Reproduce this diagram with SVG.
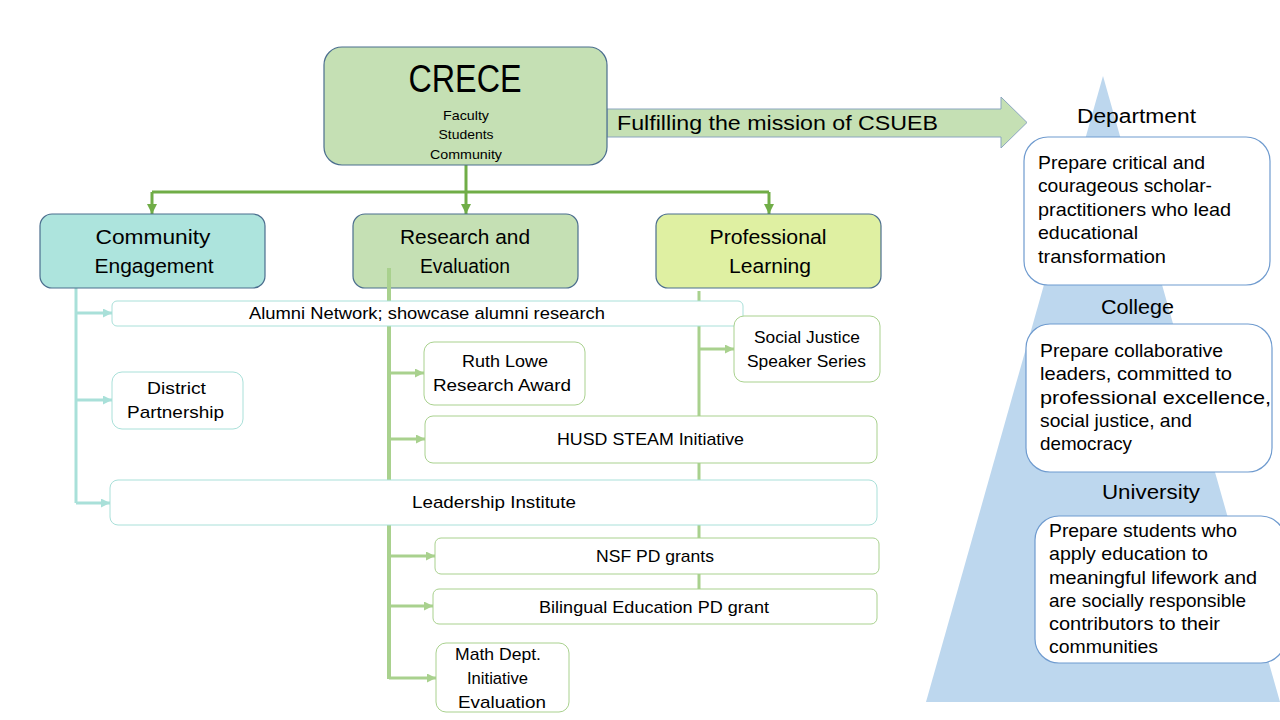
<svg xmlns="http://www.w3.org/2000/svg" width="1280" height="720" viewBox="0 0 1280 720">
<defs>
<style>
text{font-family:"Liberation Sans",Arial,sans-serif;fill:#000}
.t16{font-size:17px}
.t20{font-size:20.5px}
.t18{font-size:18.5px}
.mid{text-anchor:middle}
.hub{stroke:#4b6e8e;stroke-width:1.2}
.leaf{fill:#fff;stroke-width:1}
.teal{stroke:#a9e0d9}
.grn{stroke:#a9d18e}
.mbox{fill:#fff;stroke:#6f9bcf;stroke-width:1.2}
.conn{fill:none}
</style>
<marker id="ahMain" viewBox="0 0 10 10" refX="10" refY="5" markerUnits="userSpaceOnUse" markerWidth="10" markerHeight="10" orient="auto"><path d="M0,0 L10,5 L0,10 z" fill="#70ad47"/></marker>
<marker id="ahTeal" viewBox="0 0 10 10" refX="10" refY="5" markerUnits="userSpaceOnUse" markerWidth="9" markerHeight="9" orient="auto"><path d="M0,0 L10,5 L0,10 z" fill="#a9e0d9"/></marker>
<marker id="ahGrn" viewBox="0 0 10 10" refX="10" refY="5" markerUnits="userSpaceOnUse" markerWidth="9" markerHeight="9" orient="auto"><path d="M0,0 L10,5 L0,10 z" fill="#a9d18e"/></marker>
</defs>
<rect width="1280" height="720" fill="#fff"/>

<!-- pyramid -->
<g id="pyramid">
<polygon points="1103,76 926,702 1280,702" fill="#bdd7ee"/>
</g>

<!-- big arrow -->
<g id="mission-arrow">
<polygon points="607,109 1001,109 1001,97 1027,122.5 1001,148 1001,137 607,137" fill="#c5e0b4" stroke="#8aa5bf" stroke-width="1"/>
<text x="617" y="130" font-size="20" textLength="321" lengthAdjust="spacingAndGlyphs">Fulfilling the mission of CSUEB</text>
</g>

<!-- connectors -->
<g id="connectors" class="conn">
<path d="M466,165 V192 M152,192 H769" stroke="#70ad47" stroke-width="3"/>
<path d="M152,192 V214" stroke="#70ad47" stroke-width="3" marker-end="url(#ahMain)"/>
<path d="M466,192 V214" stroke="#70ad47" stroke-width="3" marker-end="url(#ahMain)"/>
<path d="M769,192 V214" stroke="#70ad47" stroke-width="3" marker-end="url(#ahMain)"/>

<path d="M76,288 V503" stroke="#a9e0d9" stroke-width="3"/>
<path d="M76,313 H112" stroke="#a9e0d9" stroke-width="3" marker-end="url(#ahTeal)"/>
<path d="M76,400 H112" stroke="#a9e0d9" stroke-width="3" marker-end="url(#ahTeal)"/>
<path d="M76,503 H110" stroke="#a9e0d9" stroke-width="3" marker-end="url(#ahTeal)"/>

<path d="M699,291 V590" stroke="#a9d18e" stroke-width="3"/>
<path d="M699,349 H734" stroke="#a9d18e" stroke-width="3" marker-end="url(#ahGrn)"/>
</g>

<!-- CRECE -->
<g id="crece">
<rect x="324" y="47" width="283" height="118" rx="18" fill="#c5e0b4" class="hub"/>
<text class="mid" x="465" y="92" font-size="38" textLength="113" lengthAdjust="spacingAndGlyphs">CRECE</text>
<text class="mid" x="466" y="120" font-size="13" textLength="46" lengthAdjust="spacingAndGlyphs">Faculty</text>
<text class="mid" x="466" y="139" font-size="13" textLength="55" lengthAdjust="spacingAndGlyphs">Students</text>
<text class="mid" x="466" y="159" font-size="13" textLength="72" lengthAdjust="spacingAndGlyphs">Community</text>
</g>

<g id="community-engagement">
<rect x="40" y="214" width="225" height="74" rx="12" fill="#ade4dd" class="hub"/>
<text class="t20 mid" x="153" y="244" textLength="115" lengthAdjust="spacingAndGlyphs">Community</text>
<text class="t20 mid" x="154" y="273" textLength="119" lengthAdjust="spacingAndGlyphs">Engagement</text>
</g>

<g id="research-evaluation">
<rect x="353" y="214" width="225" height="74" rx="12" fill="#c5e0b4" class="hub"/>
<text class="t20 mid" x="465" y="244" textLength="130" lengthAdjust="spacingAndGlyphs">Research and</text>
<text class="t20 mid" x="465" y="273" textLength="90" lengthAdjust="spacingAndGlyphs">Evaluation</text>
</g>

<g id="research-connectors" class="conn">
<path d="M389,268 V679" stroke="#a9d18e" stroke-width="4"/>
<path d="M389,373 H424" stroke="#a9d18e" stroke-width="3" marker-end="url(#ahGrn)"/>
<path d="M389,439 H425" stroke="#a9d18e" stroke-width="3" marker-end="url(#ahGrn)"/>
<path d="M389,556 H435" stroke="#a9d18e" stroke-width="3" marker-end="url(#ahGrn)"/>
<path d="M389,606 H433" stroke="#a9d18e" stroke-width="3" marker-end="url(#ahGrn)"/>
<path d="M389,678 H436" stroke="#a9d18e" stroke-width="3" marker-end="url(#ahGrn)"/>
</g>

<g id="professional-learning">
<rect x="656" y="214" width="225" height="74" rx="12" fill="#dff0a2" class="hub"/>
<text class="t20 mid" x="768" y="244" textLength="117" lengthAdjust="spacingAndGlyphs">Professional</text>
<text class="t20 mid" x="770" y="273" textLength="82" lengthAdjust="spacingAndGlyphs">Learning</text>
</g>

<g id="alumni-network">
<rect x="112" y="301" width="631" height="25" rx="5" class="leaf teal"/>
<text class="t16 mid" x="427" y="319" textLength="356" lengthAdjust="spacingAndGlyphs">Alumni Network; showcase alumni research</text>
</g>

<g id="social-justice">
<rect x="734" y="316" width="146" height="66" rx="10" class="leaf grn"/>
<text class="t16 mid" x="807" y="343" textLength="106" lengthAdjust="spacingAndGlyphs">Social Justice</text>
<text class="t16 mid" x="806.5" y="367" textLength="119" lengthAdjust="spacingAndGlyphs">Speaker Series</text>
</g>

<g id="ruth-lowe">
<rect x="424" y="342" width="161" height="63" rx="10" class="leaf grn"/>
<text class="t16 mid" x="505" y="367" textLength="86" lengthAdjust="spacingAndGlyphs">Ruth Lowe</text>
<text class="t16 mid" x="502" y="391" textLength="138" lengthAdjust="spacingAndGlyphs">Research Award</text>
</g>

<g id="district-partnership">
<rect x="112" y="372" width="131" height="57" rx="10" class="leaf teal"/>
<text class="t16 mid" x="176.5" y="394" textLength="59" lengthAdjust="spacingAndGlyphs">District</text>
<text class="t16 mid" x="175.5" y="418" textLength="97" lengthAdjust="spacingAndGlyphs">Partnership</text>
</g>

<g id="husd-steam">
<rect x="425" y="416" width="452" height="47" rx="8" class="leaf grn"/>
<text class="t16 mid" x="650.5" y="445" textLength="187" lengthAdjust="spacingAndGlyphs">HUSD STEAM Initiative</text>
</g>

<g id="leadership-institute">
<rect x="110" y="480" width="767" height="45" rx="8" class="leaf teal"/>
<text class="t16 mid" x="494" y="508" textLength="164" lengthAdjust="spacingAndGlyphs">Leadership Institute</text>
</g>

<g id="nsf-pd">
<rect x="435" y="538" width="444" height="36" rx="6" class="leaf grn"/>
<text class="t16 mid" x="655" y="562" textLength="118" lengthAdjust="spacingAndGlyphs">NSF PD grants</text>
</g>

<g id="bilingual-pd">
<rect x="433" y="589" width="444" height="35" rx="6" class="leaf grn"/>
<text class="t16 mid" x="654" y="613" textLength="230" lengthAdjust="spacingAndGlyphs">Bilingual Education PD grant</text>
</g>

<g id="math-dept">
<rect x="436" y="643" width="133" height="69" rx="10" class="leaf grn"/>
<text class="t16 mid" x="498" y="660" textLength="86" lengthAdjust="spacingAndGlyphs">Math Dept.</text>
<text class="t16 mid" x="497.5" y="684" textLength="61" lengthAdjust="spacingAndGlyphs">Initiative</text>
<text class="t16 mid" x="502" y="708" textLength="88" lengthAdjust="spacingAndGlyphs">Evaluation</text>
</g>

<g id="department">
<text class="mid" x="1136.5" y="123" font-size="20" textLength="119" lengthAdjust="spacingAndGlyphs">Department</text>
<rect x="1024" y="137" width="246" height="148" rx="24" class="mbox"/>
<text class="t18" x="1038" y="169" textLength="167" lengthAdjust="spacingAndGlyphs">Prepare critical and</text>
<text class="t18" x="1038" y="192" textLength="174" lengthAdjust="spacingAndGlyphs">courageous scholar-</text>
<text class="t18" x="1038" y="216" textLength="193" lengthAdjust="spacingAndGlyphs">practitioners who lead</text>
<text class="t18" x="1038" y="239" textLength="100" lengthAdjust="spacingAndGlyphs">educational</text>
<text class="t18" x="1038" y="263" textLength="128" lengthAdjust="spacingAndGlyphs">transformation</text>
</g>

<g id="college">
<text class="mid" x="1137.5" y="314" font-size="20" textLength="73" lengthAdjust="spacingAndGlyphs">College</text>
<rect x="1026" y="324" width="246" height="148" rx="24" class="mbox"/>
<text class="t18" x="1040" y="357" textLength="183" lengthAdjust="spacingAndGlyphs">Prepare collaborative</text>
<text class="t18" x="1040" y="380" textLength="192" lengthAdjust="spacingAndGlyphs">leaders, committed to</text>
<text class="t18" x="1040" y="404" textLength="231" lengthAdjust="spacingAndGlyphs">professional excellence,</text>
<text class="t18" x="1040" y="427" textLength="152" lengthAdjust="spacingAndGlyphs">social justice, and</text>
<text class="t18" x="1040" y="450" textLength="92" lengthAdjust="spacingAndGlyphs">democracy</text>
</g>

<g id="university">
<text class="mid" x="1151" y="499" font-size="20" textLength="98" lengthAdjust="spacingAndGlyphs">University</text>
<rect x="1035" y="516" width="250" height="147" rx="24" class="mbox"/>
<text class="t18" x="1049" y="537" textLength="188" lengthAdjust="spacingAndGlyphs">Prepare students who</text>
<text class="t18" x="1049" y="560" textLength="159" lengthAdjust="spacingAndGlyphs">apply education to</text>
<text class="t18" x="1049" y="584" textLength="208" lengthAdjust="spacingAndGlyphs">meaningful lifework and</text>
<text class="t18" x="1049" y="607" textLength="197" lengthAdjust="spacingAndGlyphs">are socially responsible</text>
<text class="t18" x="1049" y="630" textLength="171" lengthAdjust="spacingAndGlyphs">contributors to their</text>
<text class="t18" x="1049" y="653" textLength="109" lengthAdjust="spacingAndGlyphs">communities</text>
</g>
</svg>
